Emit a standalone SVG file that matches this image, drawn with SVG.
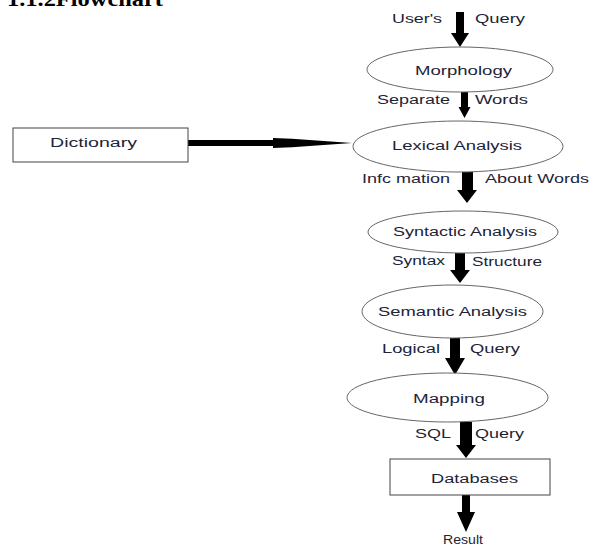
<svg xmlns="http://www.w3.org/2000/svg" width="600" height="546" viewBox="0 0 600 546">
<style>
.t{font-family:"Liberation Sans",Arial,sans-serif;font-size:12.5px;fill:#1d2438}
.title{font-family:"Liberation Serif","Times New Roman",serif;font-size:22px;font-weight:bold;fill:#000}
.ell{fill:#fff;stroke:#666;stroke-width:1}
.box{fill:#fff;stroke:#444;stroke-width:1}
.arr{fill:#000}
</style>
<rect width="600" height="546" fill="#fff"/>
<text class="title" x="7" y="6" textLength="156" lengthAdjust="spacingAndGlyphs">1.1.2Flowchart</text>

<g id="connectors">
  <polygon class="arr" points="456,12 464,12 464,33 469,33 460,47 451,33 456,33"/>
  <polygon class="arr" points="461,92 468,92 468,107 470.5,107 464.5,118 458.5,107 461,107"/>
  <polygon class="arr" points="462,172 473,172 473,190 477,190 467,203 457,190 462,190"/>
  <polygon class="arr" points="455,253 465,253 465,270 470,270 460,283 450,270 455,270"/>
  <polygon class="arr" points="450,338 460,338 460,358 465,358 455,375 445,358 450,358"/>
  <polygon class="arr" points="460,422 472,422 472,445 476,445 466,458 456,445 460,445"/>
  <polygon class="arr" points="462,495 470,495 470,512 475,512 466,532 457,512 462,512"/>
  <rect class="arr" x="188" y="140" width="86" height="6"/>
  <polygon class="arr" points="273,138 292,138.8 352,143 292,147.2 273,148"/>
</g>

<g id="morphology">
  <ellipse class="ell" cx="460" cy="69.5" rx="93" ry="22.5"/>
  <text class="t" x="415" y="75" textLength="97" lengthAdjust="spacingAndGlyphs">Morphology</text>
</g>
<g id="dictionary">
  <rect class="box" x="13" y="128" width="175" height="34"/>
  <text class="t" x="50" y="147" textLength="87" lengthAdjust="spacingAndGlyphs">Dictionary</text>
</g>
<g id="lexical">
  <ellipse class="ell" cx="458" cy="146.5" rx="105" ry="25.5"/>
  <text class="t" x="392" y="150" textLength="130" lengthAdjust="spacingAndGlyphs">Lexical Analysis</text>
</g>
<g id="syntactic">
  <ellipse class="ell" cx="463" cy="232" rx="95" ry="21"/>
  <text class="t" x="393" y="236" textLength="144" lengthAdjust="spacingAndGlyphs">Syntactic Analysis</text>
</g>
<g id="semantic">
  <ellipse class="ell" cx="452.5" cy="311.5" rx="90.5" ry="26.5"/>
  <text class="t" x="378" y="316" textLength="149" lengthAdjust="spacingAndGlyphs">Semantic Analysis</text>
</g>
<g id="mapping">
  <ellipse class="ell" cx="447.5" cy="397.5" rx="100.5" ry="24.5"/>
  <text class="t" x="413" y="403" textLength="72" lengthAdjust="spacingAndGlyphs">Mapping</text>
</g>
<g id="databases">
  <rect class="box" x="390" y="459" width="160" height="36"/>
  <text class="t" x="431" y="483" textLength="87" lengthAdjust="spacingAndGlyphs">Databases</text>
</g>

<g id="labels">
  <text class="t" x="392" y="23" textLength="50" lengthAdjust="spacingAndGlyphs">User's</text>
  <text class="t" x="475" y="23" textLength="50" lengthAdjust="spacingAndGlyphs">Query</text>
  <text class="t" x="377" y="104" textLength="73" lengthAdjust="spacingAndGlyphs">Separate</text>
  <text class="t" x="475" y="104" textLength="53" lengthAdjust="spacingAndGlyphs">Words</text>
  <text class="t" x="362" y="183" textLength="88" lengthAdjust="spacingAndGlyphs">Infc mation</text>
  <text class="t" x="485" y="183" textLength="104" lengthAdjust="spacingAndGlyphs">About Words</text>
  <text class="t" x="392" y="265" textLength="53" lengthAdjust="spacingAndGlyphs">Syntax</text>
  <text class="t" x="472" y="266" textLength="70" lengthAdjust="spacingAndGlyphs">Structure</text>
  <text class="t" x="382" y="353" textLength="58" lengthAdjust="spacingAndGlyphs">Logical</text>
  <text class="t" x="470" y="353" textLength="50" lengthAdjust="spacingAndGlyphs">Query</text>
  <text class="t" x="415" y="438" textLength="36" lengthAdjust="spacingAndGlyphs">SQL</text>
  <text class="t" x="475" y="438" textLength="49" lengthAdjust="spacingAndGlyphs">Query</text>
  <text class="t" x="443" y="544" font-size="11.5" textLength="40" lengthAdjust="spacingAndGlyphs">Result</text>
</g>
</svg>
